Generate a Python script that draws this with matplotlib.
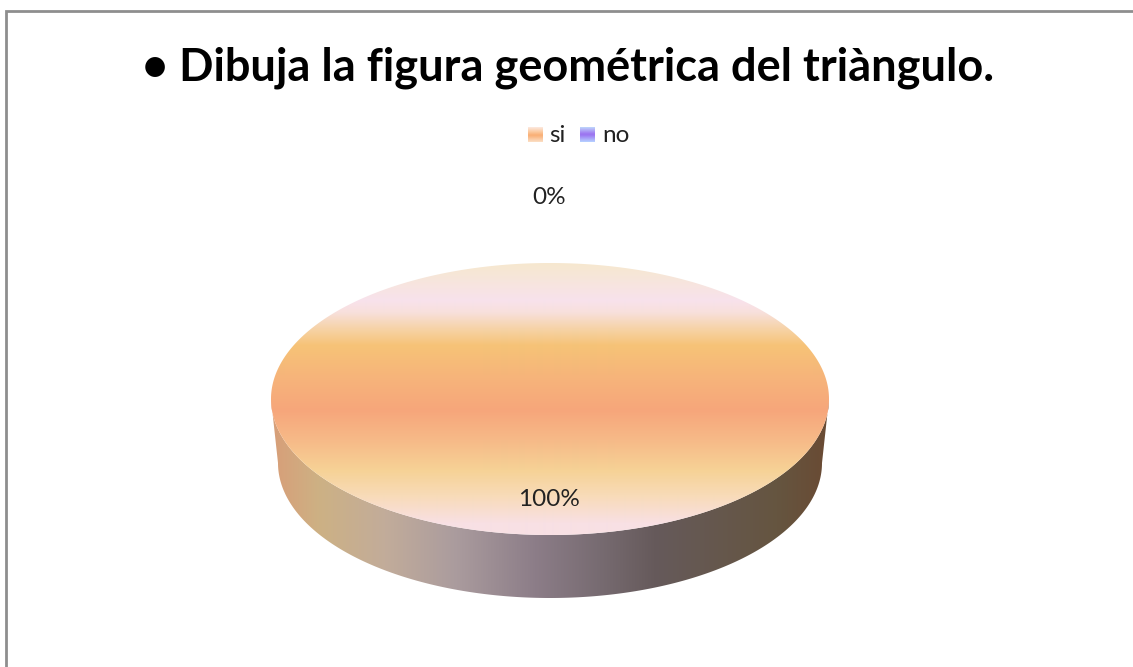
import numpy as np
import matplotlib
matplotlib.use("Agg")
import matplotlib.pyplot as plt
from matplotlib.colors import to_rgb
from matplotlib.patches import Polygon

title = "• Dibuja la figura geométrica del triàngulo."
categories = ["si", "no"]
values = [100, 0]
labels = ["100%", "0%"]

W, H = 1133, 667
plt.rcParams["font.family"] = ["Lato", "DejaVu Sans"]

# gradient stops (pixel position, colour)
top_stops = [(263, "#F6E8CF"), (300, "#F8E2EC"), (312, "#F8E0DC"), (328, "#F6D3A8"), (345, "#F6C377"),
             (375, "#F6B57A"), (410, "#F7A67B"), (440, "#F6BA88"), (470, "#F6D296"), (495, "#F8DBB8"),
             (523, "#F8E0E4"), (535, "#F8E0E4")]
side_stops = [(271, "#D89E78"), (319, "#CDB184"), (385, "#C2AC9A"), (454, "#AB9C9E"), (535, "#8C7D88"),
              (600, "#776B71"), (654, "#665A5B"), (777, "#655540"), (829, "#6A4A33")]
swatch_si = [(0, "#FCE6DA"), (0.35, "#FBC596"), (0.55, "#F9AE74"), (1, "#FBDCC0")]
swatch_no = [(0, "#BCD0FB"), (0.35, "#A488F2"), (0.5, "#9A70F0"), (1, "#B4CCFF")]


def ramp(stops, pos):
    xs = [s[0] for s in stops]
    rgb = np.array([to_rgb(s[1]) for s in stops])
    return np.stack([np.interp(pos, xs, rgb[:, i]) for i in range(3)], axis=-1)


fig = plt.figure(figsize=(W / 100, H / 100), dpi=100)
ax = fig.add_axes([0, 0, 1, 1])

# border, only top and left show
ax.plot([6, 6, W], [H, 11, 11], color="#8E8E8E", lw=2.0, solid_joinstyle="miter")

cx, cy, rx, ry = 550, 399, 279, 136
bx, by, brx, bry = 550, 463, 272, 135

# side of the disc
t = np.linspace(0, np.pi, 300)
side = np.vstack([
    np.column_stack([cx + rx * np.cos(t), cy + ry * np.sin(t)]),
    np.column_stack([bx + brx * np.cos(t[::-1]), by + bry * np.sin(t[::-1])]),
])
xpos = np.arange(265, 836)
im = ax.imshow(ramp(side_stops, xpos)[None, :, :], extent=(265, 836, 600, 395), aspect="auto",
               interpolation="bilinear", zorder=2)
im.set_clip_path(Polygon(side, closed=True, transform=ax.transData))

# top face, one slice per value
share = values[0] / sum(values)
a = np.linspace(np.pi / 2, np.pi / 2 + 2 * np.pi * share, 600)
face = np.column_stack([cx + rx * np.cos(a), cy - ry * np.sin(a)])
ypos = np.arange(260, 539)
im = ax.imshow(ramp(top_stops, ypos)[:, None, :], extent=(265, 836, 539, 260), aspect="auto",
               interpolation="bilinear", zorder=3)
im.set_clip_path(Polygon(face, closed=True, transform=ax.transData))

ax.text(568, 68, title, ha="center", va="center", fontsize=32.5, fontweight="bold", color="black")

# legend
for name, stops, x0, tx in zip(categories, [swatch_si, swatch_no], [528, 580], [549, 602]):
    g = ramp(stops, np.linspace(0, 1, 14))[:, None, :]
    ax.imshow(g, extent=(x0, x0 + 15, 142, 127), aspect="auto", interpolation="bilinear", zorder=3)
    ax.text(tx, 135, name, ha="left", va="center", fontsize=17.5, color="#222222")

ax.text(549, 500, labels[0], ha="center", va="center", fontsize=17.5, color="#222222", zorder=5)
ax.text(549, 198, labels[1], ha="center", va="center", fontsize=17.5, color="#222222", zorder=5)

ax.set_xlim(0, W)
ax.set_ylim(H, 0)
ax.axis("off")
fig.savefig("out.png", dpi=100)
